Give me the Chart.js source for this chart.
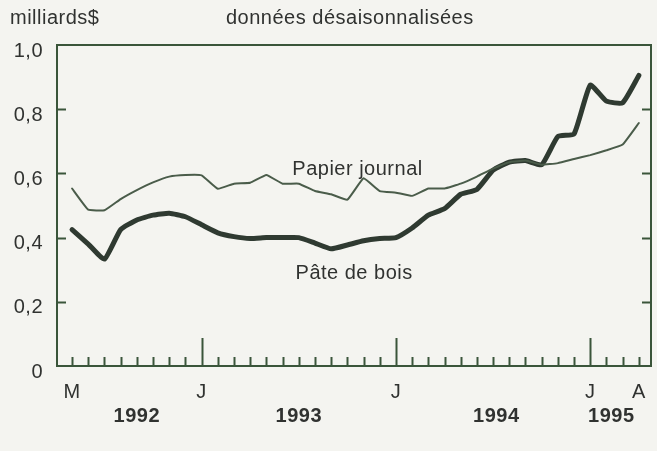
<!DOCTYPE html>
<html>
<head>
<meta charset="utf-8">
<script src="https://cdn.jsdelivr.net/npm/chart.js@4"></script>
<style>
  body { margin: 0; background: #f4f4f0; }
  #wrap { width: 657px; height: 451px; position: relative; }
</style>
</head>
<body>
<div id="wrap"><canvas id="chart"></canvas></div>
<script>
// mai 1992 -> avril 1995, une valeur par mois
const mois = [
  '1992-05','1992-06','1992-07','1992-08','1992-09','1992-10','1992-11','1992-12',
  '1993-01','1993-02','1993-03','1993-04','1993-05','1993-06','1993-07','1993-08','1993-09','1993-10','1993-11','1993-12',
  '1994-01','1994-02','1994-03','1994-04','1994-05','1994-06','1994-07','1994-08','1994-09','1994-10','1994-11','1994-12',
  '1995-01','1995-02','1995-03','1995-04'
];

const papierJournal = [
  0.553, 0.487, 0.485, 0.52, 0.548, 0.572, 0.59, 0.595,
  0.594, 0.552, 0.568, 0.571, 0.595, 0.568, 0.568, 0.545, 0.535, 0.518, 0.585, 0.545,
  0.54, 0.53, 0.553, 0.553, 0.568, 0.59, 0.615, 0.635, 0.64, 0.627, 0.632, 0.645,
  0.657, 0.672, 0.69, 0.757
];

const pateDeBois = [
  0.425, 0.38, 0.333, 0.425, 0.455, 0.47, 0.476, 0.465,
  0.44, 0.415, 0.403, 0.397, 0.40, 0.40, 0.40, 0.383, 0.365, 0.377, 0.39, 0.397,
  0.40, 0.43, 0.47, 0.49, 0.535, 0.55, 0.61, 0.635, 0.64, 0.627, 0.715, 0.723,
  0.875, 0.825, 0.82, 0.905
];

const yTicks = [0, 0.2, 0.4, 0.6, 0.8, 1.0];
const moisLettres = { 0: 'M', 8: 'J', 20: 'J', 32: 'J', 35: 'A' };
const annees = [['1992', 4], ['1993', 14], ['1994', 26.2], ['1995', 33.3]];
const debutsAnnee = [8, 20, 32];

const texte = '#303230';
const axe = '#3a553a';
const police = "'Liberation Sans', Arial, sans-serif";

Chart.defaults.font.family = police;

const decor = {
  id: 'decor',
  beforeDraw(chart) {
    chart.ctx.letterSpacing = '0.5px';
  },
  afterDraw(chart) {
    const { ctx, chartArea: a, scales: { x, y } } = chart;
    ctx.save();
    ctx.strokeStyle = axe;
    ctx.lineWidth = 2;
    ctx.strokeRect(a.left, a.top, a.right - a.left, a.bottom - a.top);

    // petites marques mensuelles et grandes marques annuelles
    ctx.beginPath();
    mois.forEach((m, i) => {
      const px = Math.round(x.getPixelForValue(i)) + 0.5;
      const h = debutsAnnee.includes(i) ? 28 : 9;
      ctx.moveTo(px, a.bottom);
      ctx.lineTo(px, a.bottom - h);
    });
    [0.2, 0.4, 0.6, 0.8].forEach(v => {
      const py = Math.round(y.getPixelForValue(v)) + 0.5;
      ctx.moveTo(a.left, py); ctx.lineTo(a.left + 9, py);
      ctx.moveTo(a.right, py); ctx.lineTo(a.right - 9, py);
    });
    ctx.stroke();

    ctx.fillStyle = texte;
    ctx.letterSpacing = '0.5px';
    ctx.textBaseline = 'middle';
    ctx.textAlign = 'center';
    ctx.font = '20px ' + police;
    Object.keys(moisLettres).forEach(i => {
      ctx.fillText(moisLettres[i], x.getPixelForValue(+i), 392);
    });
    ctx.font = 'bold 20px ' + police;
    annees.forEach(([t, i]) => ctx.fillText(t, x.getPixelForValue(i), 416));

    ctx.font = '20px ' + police;
    ctx.textAlign = 'left';
    ctx.fillText('milliards$', 10, 18);
    ctx.fillText('données désaisonnalisées', 226, 18);

    ctx.textBaseline = 'alphabetic';
    ctx.fillText('Papier journal', x.getPixelForValue(13.6), y.getPixelForValue(0.595));
    ctx.fillText('Pâte de bois', x.getPixelForValue(13.8), y.getPixelForValue(0.271));
    ctx.restore();
  }
};

new Chart(document.getElementById('chart'), {
  type: 'line',
  data: {
    datasets: [
      {
        label: 'Papier journal',
        data: papierJournal.map((v, i) => ({ x: i, y: v })),
        borderColor: '#4a5c4a',
        borderWidth: 2,
        tension: 0.1
      },
      {
        label: 'Pâte de bois',
        data: pateDeBois.map((v, i) => ({ x: i, y: v })),
        borderColor: '#2f3a31',
        borderWidth: 5,
        tension: 0.15
      }
    ]
  },
  options: {
    responsive: true,
    maintainAspectRatio: false,
    animation: false,
    layout: { padding: { left: 0, right: 6, top: 45, bottom: 0 } },
    elements: {
      point: { radius: 0 },
      line: { borderJoinStyle: 'round', borderCapStyle: 'round' }
    },
    plugins: { legend: { display: false }, tooltip: { enabled: false } },
    scales: {
      x: {
        type: 'linear',
        min: -0.93,
        max: 35.75,
        grid: { display: false, drawTicks: false },
        border: { display: false },
        ticks: { display: false },
        afterFit: s => { s.height = 85; }
      },
      y: {
        min: 0,
        max: 1,
        afterBuildTicks: s => { s.ticks = yTicks.map(v => ({ value: v })); },
        grid: { display: false, drawTicks: false },
        border: { display: false },
        ticks: {
          color: texte,
          font: { size: 20 },
          padding: 14,
          labelOffset: 6,
          callback: v => v === 0 ? '0' : v.toFixed(1).replace('.', ',')
        },
        afterFit: s => { s.width = 57; }
      }
    }
  },
  plugins: [decor]
});
</script>
</body>
</html>
